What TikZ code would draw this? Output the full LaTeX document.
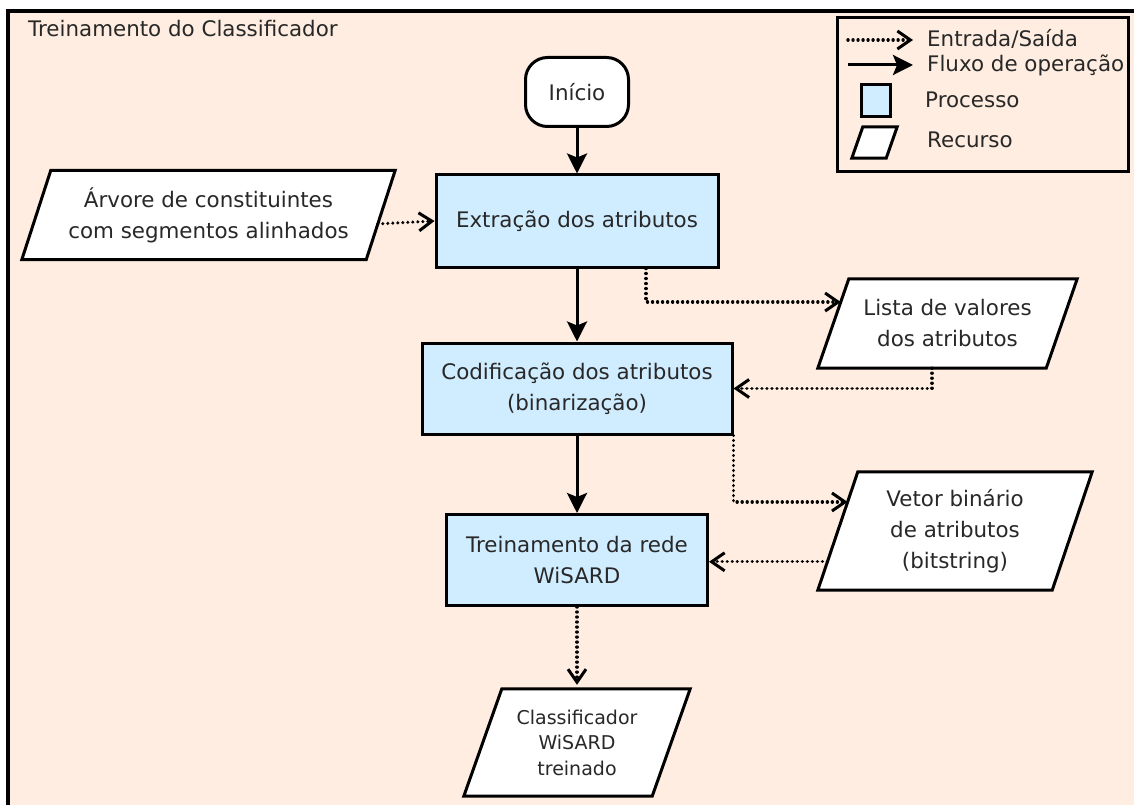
\documentclass[tikz,border=0pt]{standalone}
\usepackage{fontspec}
\setmainfont{DejaVu Sans}
\usetikzlibrary{arrows.meta,calc}
\definecolor{paper}{RGB}{254,237,224}
\definecolor{procblue}{RGB}{208,236,255}
\definecolor{ink}{RGB}{40,40,40}
\pgfdeclarelayer{framelayer}
\pgfdeclarelayer{shapelayer}
\pgfsetlayers{framelayer,shapelayer,main}
% parallelogram drawn behind a named text node: #1 node name, #2 slant
\newcommand\resourceshape[2]{%
  \coordinate (#1-tl) at ($(#1.north west)+(#2,0)$);
  \coordinate (#1-tr) at (#1.north east);
  \coordinate (#1-br) at ($(#1.south east)-(#2,0)$);
  \coordinate (#1-bl) at (#1.south west);
  \begin{pgfonlayer}{shapelayer}
    \draw[line width=3pt,fill=white,line join=miter] (#1-tl) -- (#1-tr) -- (#1-br) -- (#1-bl) -- cycle;
  \end{pgfonlayer}}
\begin{document}
\begin{tikzpicture}[x=1pt,y=-1pt,
  txt/.style={text=ink,font=\fontsize{21.4}{31}\selectfont,align=center},
  smalltxt/.style={text=ink,font=\fontsize{19}{25.5}\selectfont,align=center},
  process/.style={txt,draw=black,line width=3pt,fill=procblue,inner sep=0pt},
  resource/.style={inner sep=0pt},
  flow/.style={line width=3pt,-{Stealth[length=20pt,width=20pt,inset=4pt]}},
  io/.style={line width=3.4pt,line cap=round,dash pattern=on 0.01pt off 5pt,
    -{Straight Barb[length=13pt,width=18pt,line width=3pt,line cap=butt]}},
  legendtxt/.style={text=ink,font=\fontsize{21.4}{31}\selectfont,anchor=base west,inner sep=0pt}]
\useasboundingbox (0,0) rectangle (1134,805);
\clip (0,0) rectangle (1134,805);
% outer frame
\begin{pgfonlayer}{framelayer}
\draw[line width=4pt,fill=paper] (7.5,11.5) rectangle (1160,830);
\end{pgfonlayer}
\node[txt,anchor=base west,inner sep=0pt] (title) at (28,37) {Treinamento do Classificador};

% legend
\node[draw=black,line width=3pt,minimum width=291,minimum height=154,inner sep=0pt] (legend) at (982.5,95) {};
\coordinate (l1a) at (848,40);
\coordinate (l1b) at (913,40);
\coordinate (l2a) at (848,65);
\coordinate (l2b) at (913,65);
\draw[io] (l1a) -- (l1b);
\draw[flow] (l2a) -- (l2b);
\node[legendtxt] (lt1) at (927,47) {Entrada/Saída};
\node[legendtxt] (lt2) at (927,72) {Fluxo de operação};
\node[draw=black,line width=3pt,fill=procblue,minimum width=29,minimum height=32,inner sep=0pt] (lproc) at (875.5,101) {};
\node[legendtxt] (lt3) at (925,108) {Processo};
\node[resource,minimum width=45,minimum height=31] (lres) at (874.5,142.5) {};
\resourceshape{lres}{11}
\node[legendtxt] (lt4) at (927,148) {Recurso};

% flowchart nodes
\node[draw=black,line width=3pt,fill=white,rounded corners=22pt,minimum width=103,minimum height=69,txt] (inicio) at (577,92) {Início};
\node[process,minimum width=282,minimum height=92] (extr) at (577,221) {Extração dos atributos};
\node[process,minimum width=310,minimum height=91] (codif) at (577,388.5) {Codificação dos atributos\\(binarização)};
\node[process,minimum width=261,minimum height=91] (trein) at (577,560) {Treinamento da rede\\WiSARD};

\node[resource,txt,minimum width=373,minimum height=89] (arvore) at (208.5,215) {Árvore de constituintes\\com segmentos alinhados};
\resourceshape{arvore}{29}
\node[resource,txt,minimum width=259,minimum height=89] (lista) at (947.5,323.5) {Lista de valores\\dos atributos};
\resourceshape{lista}{31}
\node[resource,txt,minimum width=274,minimum height=118] (vetor) at (955,531) {Vetor binário\\de atributos\\(bitstring)};
\resourceshape{vetor}{40}
\node[resource,smalltxt,minimum width=226,minimum height=107] (classif) at (577,742.5) {Classificador\\WiSARD\\treinado};
\resourceshape{classif}{38}

% connectors
\draw[flow] (inicio.south) -- (extr.north);
\draw[flow] (extr.south) -- (codif.north);
\draw[flow] (codif.south) -- (trein.north);
\draw[io] ($(arvore-br)!0.4!(arvore-tr)$) -- (extr.west);
\draw[io] ([xshift=69pt]extr.south) |- ($(lista-bl)!0.74!(lista-tl)$);
\draw[io] ($(lista-bl)!0.5!(lista-br)$) |- (codif.east);
\draw[io] (codif.south east) |- ($(vetor-bl)!0.745!(vetor-tl)$);
\coordinate (vin) at ($(vetor-bl)!0.24!(vetor-tl)$);
\draw[io] (vin) -- (trein.east |- vin);
\draw[io] (trein.south) -- ([yshift=4pt]classif.north);
\end{tikzpicture}
\end{document}
